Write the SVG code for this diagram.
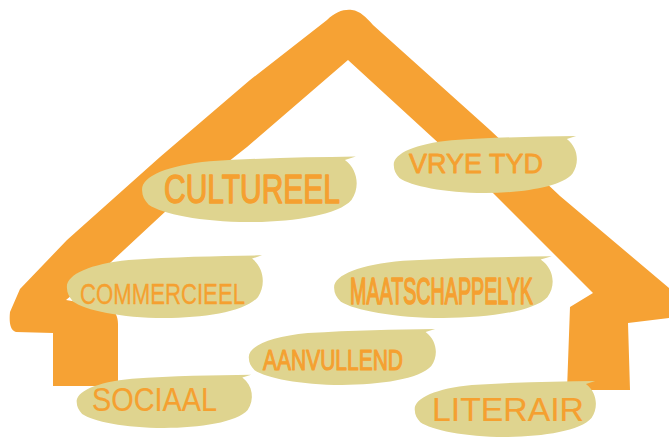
<svg xmlns="http://www.w3.org/2000/svg" xmlns:xlink="http://www.w3.org/1999/xlink" width="669" height="438" viewBox="0 0 669 438">
<defs>
<style>
.house{fill:#f6a234;}
.blob{fill:#dfd48f;}
.lbl{fill:#f5a030;font-family:"Liberation Sans","DejaVu Sans",sans-serif;stroke:#f5a030;stroke-linejoin:round;}
</style>
<path id="blob" d="M1,55 C0,35 12,18 32,12 C55,7 78,6 99,5 L94,10 C100,24 101,50 97,68 C91,90 70,100 50,100 C28,100 10,88 4,75 C2,68 1,62 1,55 Z"/>
</defs>
<rect width="669" height="438" fill="#ffffff"/>
<g id="house">
<path class="house" d="M53,386 L53,333 L16,332 C10,330 9,322 10,312 L20,289 L67,240 L160,157 L250,80 L327,20 C335,12 344,9 352,10 C360,11 366,17 373,25 L490,130 L560,196 L669,288 L680,300 L680,318 L669,318 L628,323 L630,390 L567,390 L570,307 L593,293 L493,193 L348,60 L247,147 L167,210 L110,263 L66,300 L108,307 C115,310 118,316 118,324 L118,386 Z"/>
</g>
<g id="node-cultureel">
<use xlink:href="#blob" href="#blob" class="blob" transform="translate(140,153) scale(2.18,0.69)"/>
<text class="lbl" x="164" y="203" font-size="40" stroke-width="1.4" textLength="176" lengthAdjust="spacingAndGlyphs">CULTUREEL</text>
</g>
<g id="node-vryetyd">
<use xlink:href="#blob" href="#blob" class="blob" transform="translate(392,133) scale(1.86,0.60)"/>
<text class="lbl" x="409" y="173" font-size="28" stroke-width="0.8" textLength="134" lengthAdjust="spacingAndGlyphs">VRYE TYD</text>
</g>
<g id="node-commercieel">
<use xlink:href="#blob" href="#blob" class="blob" transform="translate(65,252) scale(1.99,0.66)"/>
<text class="lbl" x="80" y="304" font-size="30" stroke-width="0.3" textLength="165" lengthAdjust="spacingAndGlyphs">COMMERCIEEL</text>
</g>
<g id="node-maatschappelyk">
<use xlink:href="#blob" href="#blob" class="blob" transform="translate(332,253) scale(2.22,0.65)"/>
<text class="lbl" x="0" y="0" transform="translate(350,304) scale(1,1.4)" font-size="27" stroke-width="1.2" textLength="183" lengthAdjust="spacingAndGlyphs">MAATSCHAPPELYK</text>
</g>
<g id="node-aanvullend">
<use xlink:href="#blob" href="#blob" class="blob" transform="translate(247,326) scale(1.90,0.59)"/>
<text class="lbl" x="263" y="370" font-size="30" stroke-width="1.2" textLength="140" lengthAdjust="spacingAndGlyphs">AANVULLEND</text>
</g>
<g id="node-sociaal">
<use xlink:href="#blob" href="#blob" class="blob" transform="translate(75,372) scale(1.78,0.56)"/>
<text class="lbl" x="92" y="411" font-size="34" stroke-width="0.2" textLength="125" lengthAdjust="spacingAndGlyphs">SOCIAAL</text>
</g>
<g id="node-literair">
<use xlink:href="#blob" href="#blob" class="blob" transform="translate(413,378) scale(1.84,0.59)"/>
<text class="lbl" x="432" y="421" font-size="34" stroke-width="0.2" textLength="152" lengthAdjust="spacingAndGlyphs">LITERAIR</text>
</g>
</svg>
